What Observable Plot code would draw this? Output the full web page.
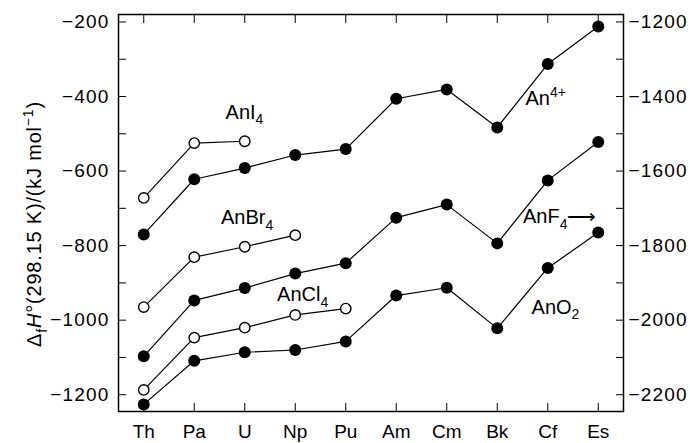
<!DOCTYPE html>
<html><head><meta charset="utf-8">
<script src="https://cdn.jsdelivr.net/npm/d3@7"></script>
<script src="https://cdn.jsdelivr.net/npm/@observablehq/plot@0.6"></script>
<style>
body{margin:0;background:#fff;}
#chart{width:690px;height:443px;}
#chart g[aria-label="y-axis tick label"] text{letter-spacing:1.2px;}
#chart g.ylab text{letter-spacing:0.8px;}
</style>
</head><body><div id="chart"></div>
<script>
// Categories (actinides)
const elements = ["Th","Pa","U","Np","Pu","Am","Cm","Bk","Cf","Es"];
// Left-axis series (kJ/mol)
const an4plus = [-770,-622,-592,-557,-541,-406,-381,-483,-313,-212];
const anI4    = [-672,-525,-520];
const anBr4   = [-965,-831,-803,-772];
const anCl4   = [-1187,-1047,-1020,-986,-969];
const anO2    = [-1226,-1109,-1086,-1080,-1057,-934,-913,-1022,-860,-765];
// Right-axis series (kJ/mol), right axis = left axis - 1000
const anF4    = [-2097,-1947,-1914,-1875,-1847,-1725,-1690,-1794,-1625,-1522];
// Tick labels
const leftTicks  = [-1200,-1000,-800,-600,-400,-200];
const rightTicks = [-2200,-2000,-1800,-1600,-1400,-1200];
const minorTicks = d3.range(-1200,-199,100);
const rightOffset = 1000;

const series = [
  {name:"An4+",  values:an4plus, open:false, right:false},
  {name:"AnF4",  values:anF4,    open:false, right:true},
  {name:"AnO2",  values:anO2,    open:false, right:false},
  {name:"AnI4",  values:anI4,    open:true,  right:false},
  {name:"AnBr4", values:anBr4,   open:true,  right:false},
  {name:"AnCl4", values:anCl4,   open:true,  right:false}
];
const rows = series.flatMap(s => s.values.map((v,i) => ({
  series:s.name, i, v, y: s.right ? v + rightOffset : v, open:s.open
})));

const labels = [
  {text:"AnI_{4}",   x:1.62, y:-442},
  {text:"AnBr_{4}",  x:1.53, y:-726},
  {text:"AnCl_{4}",  x:2.64, y:-932},
  {text:"An^{4+}",   x:7.56, y:-406},
  {text:"AnF_{4}⟶",  x:7.51, y:-722},
  {text:"AnO_{2}",   x:7.68, y:-966}
];
const yLabel = "Δ_{f}*H*°(298.15 K)/(kJ mol^{−1})";

const fmt = d => String(d).replace("-", "\u2212");

const plot = Plot.plot({
  width:690, height:443,
  marginLeft:118, marginRight:67, marginTop:14, marginBottom:32,
  style:{fontFamily:"'Liberation Sans', Arial, Helvetica, sans-serif", fontSize:"18px", color:"#000", background:"#fff", overflow:"visible"},
  x:{domain:[-0.5,9.5]},
  y:{domain:[-1245,-180]},
  marks:[
    Plot.axisX(d3.range(10), {anchor:"bottom", tickSize:0, tickPadding:13, tickFormat:i=>elements[i], fontSize:19, label:null}),
    Plot.axisX(d3.range(10), {anchor:"bottom", tickSize:-8, fill:"none", label:null}),
    Plot.axisX(d3.range(10), {anchor:"top", tickSize:-8, fill:"none", label:null}),
    Plot.axisY(leftTicks, {anchor:"left", tickSize:0, tickPadding:9, tickFormat:fmt, fontSize:19, label:null}),
    Plot.axisY(minorTicks, {anchor:"left", tickSize:-8, fill:"none", label:null}),
    Plot.axisY(rightTicks.map(d => d + rightOffset), {anchor:"right", tickSize:0, tickPadding:5, tickFormat:d=>fmt(d - rightOffset), fontSize:19, label:null}),
    Plot.axisY(minorTicks, {anchor:"right", tickSize:-8, fill:"none", label:null}),
    Plot.frame({stroke:"#000", strokeWidth:1.5}),
    Plot.line(rows, {x:"i", y:"y", z:"series", stroke:"#000", strokeWidth:1.2}),
    Plot.dot(rows.filter(d=>!d.open), {x:"i", y:"y", r:6, fill:"#000", stroke:"none"}),
    Plot.dot(rows.filter(d=>d.open), {x:"i", y:"y", r:5.2, fill:"#fff", stroke:"#000", strokeWidth:1.4}),
    Plot.text(labels, {x:"x", y:"y", text:"text", textAnchor:"start", fontSize:20, fill:"#000"}),
    Plot.text([yLabel], {frameAnchor:"left", textAnchor:"middle", dx:-84, dy:11, rotate:-90, fontSize:20, fill:"#000"})
  ]
});
document.getElementById("chart").appendChild(plot);

const NS = "http://www.w3.org/2000/svg";
function rich(el, src, size){
  el.textContent = "";
  const re = /([_^])\{([^}]*)\}|\*([^*]*)\*|([^_^*]+)/g;
  let m, shift = 0;
  while ((m = re.exec(src))) {
    const t = document.createElementNS(NS, "tspan");
    if (m[1]) {
      const s = m[1] === "_" ? 0.28*size : -0.42*size;
      t.setAttribute("font-size", (0.7*size).toFixed(1));
      t.setAttribute("dy", (s - shift).toFixed(2));
      shift = s;
      t.textContent = m[2];
    } else {
      t.setAttribute("dy", (-shift).toFixed(2));
      shift = 0;
      if (m[3] !== undefined) { t.setAttribute("font-style","italic"); t.textContent = m[3]; }
      else t.textContent = m[4];
    }
    el.appendChild(t);
  }
}
plot.querySelectorAll("text").forEach(el => {
  const s = el.textContent;
  if (/[_^]\{|\*/.test(s)) {
    const fs = parseFloat(el.getAttribute("font-size") || el.closest("[font-size]")?.getAttribute("font-size")) || 20;
    rich(el, s, fs);
    if (s.startsWith("Δ")) el.parentNode.classList.add("ylab");
  }
});
</script>
</body></html>
